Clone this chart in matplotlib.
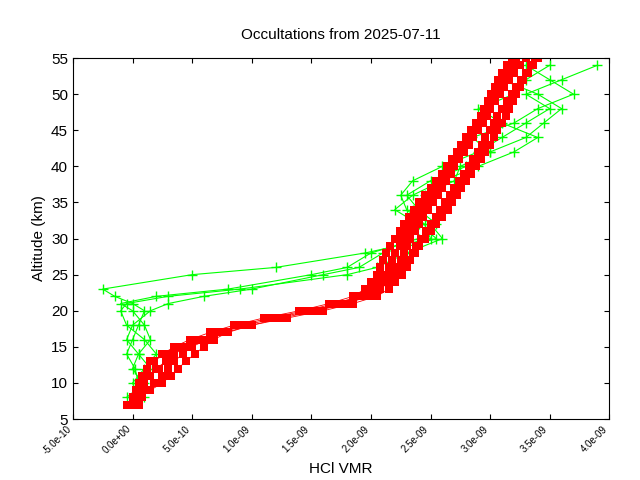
import matplotlib
matplotlib.use("Agg")
import matplotlib.pyplot as plt
from matplotlib.ticker import FuncFormatter

plt.rcParams["font.family"] = "Liberation Sans"

alt = list(range(7, 56))
red_profiles = [
    [0.00,0.02,0.03,0.05,0.08,0.12,0.18,0.25,0.35,0.48,0.65,0.85,1.10,1.40,1.65,1.85,1.95,2.00,2.05,2.08,2.10,2.13,2.16,2.20,2.24,2.28,2.32,2.36,2.40,2.45,2.50,2.55,2.60,2.64,2.68,2.72,2.76,2.80,2.84,2.88,2.92,2.95,2.98,3.01,3.04,3.07,3.10,3.14,3.18],
    [-0.05,0.0,0.05,0.10,0.15,0.20,0.28,0.35,0.45,0.60,0.78,1.00,1.25,1.55,1.80,1.98,2.08,2.15,2.20,2.22,2.25,2.28,2.30,2.33,2.37,2.40,2.44,2.48,2.52,2.56,2.60,2.63,2.67,2.70,2.74,2.78,2.82,2.86,2.90,2.94,2.97,3.00,3.04,3.08,3.12,3.16,3.20,3.25,3.30],
    [0.05,0.08,0.12,0.18,0.25,0.30,0.35,0.42,0.50,0.62,0.75,0.95,1.20,1.50,1.75,1.92,2.02,2.10,2.18,2.25,2.30,2.35,2.38,2.42,2.46,2.50,2.55,2.58,2.62,2.66,2.70,2.74,2.78,2.82,2.86,2.90,2.93,2.96,3.00,3.03,3.06,3.10,3.14,3.18,3.22,3.26,3.30,3.34,3.38],
    [-0.02,0.03,0.10,0.20,0.28,0.22,0.15,0.30,0.40,0.55,0.70,0.90,1.15,1.45,1.70,1.90,2.00,2.05,2.12,2.15,2.18,2.20,2.24,2.27,2.30,2.34,2.38,2.42,2.46,2.50,2.54,2.58,2.62,2.66,2.70,2.74,2.78,2.82,2.86,2.90,2.93,2.96,2.99,3.02,3.06,3.10,3.14,3.18,3.22],
    [0.02,0.06,0.15,0.25,0.32,0.38,0.45,0.52,0.60,0.68,0.80,1.00,1.30,1.60,1.85,2.05,2.15,2.20,2.26,2.30,2.33,2.37,2.40,2.45,2.50,2.55,2.60,2.65,2.68,2.72,2.76,2.80,2.84,2.88,2.92,2.96,3.00,3.03,3.06,3.10,3.13,3.16,3.19,3.22,3.25,3.28,3.32,3.36,3.40],
]
green_alt = [8,10,12,14,16,18,20,21,22,23,25,26,28,30,32,34,36,38,40,42,44,46,48,50,52,54]
green_profiles = [
    [0.0,0.05,0.02,-0.05,0.0,0.05,0.1,0.0,-0.15,-0.25,0.5,1.2,1.95,2.5,2.45,2.3,2.25,2.35,2.6,2.9,3.1,3.3,3.5,3.3,3.6,3.9],
    [0.1,0.08,0.0,0.05,0.15,0.1,0.0,-0.1,0.2,0.8,1.5,1.8,2.0,2.4,2.55,2.4,2.3,2.5,2.8,3.0,2.85,3.2,3.4,3.7,3.5,3.3],
    [-0.05,0.1,0.15,0.05,-0.05,0.0,0.15,0.3,0.6,1.0,1.6,1.9,2.1,2.55,2.4,2.2,2.35,2.6,2.9,3.2,3.4,3.1,2.9,3.2,3.3,3.5],
    [0.05,0.0,0.1,0.2,0.1,-0.05,-0.1,-0.05,0.3,0.9,1.8,2.05,2.3,2.6,2.5,2.35,2.45,2.7,2.75,3.0,3.3,3.45,3.6,3.4,3.1,3.2],
]

fig = plt.figure(figsize=(6.4, 4.8), dpi=100)
ax = fig.add_axes([0.114, 0.127, 0.838, 0.752])
for g in green_profiles:
    ax.plot([v * 1e-9 for v in g], green_alt, color="#00ff00", lw=0.8, marker="+", ms=7, mew=1)
for r in red_profiles:
    ax.plot([v * 1e-9 for v in r], alt, color="red", lw=0.6, marker="s", ms=5.5, mew=0)
ax.set_xlim(-5e-10, 4e-9)
ax.set_ylim(5, 55)
ax.set_xticks([i * 5e-10 for i in range(-1, 9)])
ax.set_yticks(range(5, 56, 5))
ax.xaxis.set_major_formatter(FuncFormatter(lambda v, p: "%.1e" % v))
ax.tick_params(direction="in", top=True, right=True, labelsize=11)
ax.tick_params(axis="x", labelsize=7)
for lbl in ax.get_xticklabels():
    lbl.set_rotation(45); lbl.set_ha("right"); lbl.set_va("top")
ax.set_xlabel("HCl VMR", fontsize=11)
ax.set_ylabel("Altitude (km)", fontsize=11)
ax.set_title("Occultations from 2025-07-11", fontsize=11, pad=14)
fig.savefig("out.png", dpi=100)
